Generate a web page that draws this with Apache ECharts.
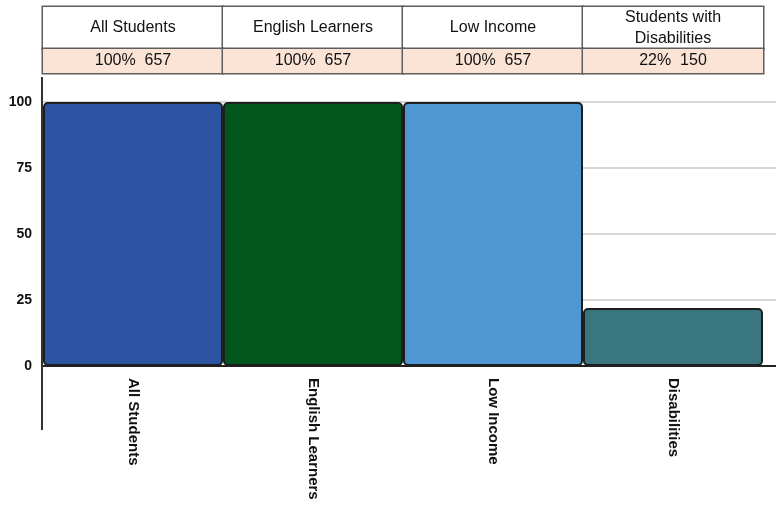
<!DOCTYPE html>
<html>
<head>
<meta charset="utf-8">
<script src="https://cdn.jsdelivr.net/npm/echarts@6/dist/echarts.min.js"></script>
<style>
  html, body { margin: 0; padding: 0; background: #fff; }
  #chart { width: 776px; height: 506px; }
</style>
</head>
<body>
<div id="chart"></div>
<script>
// chart data
const categories = ['All Students', 'English Learners', 'Low Income', 'Disabilities']
const headerLabels = ['All Students', 'English Learners', 'Low Income', 'Students with\nDisabilities']
const percents = [100, 100, 100, 22]
const counts = [657, 657, 657, 150]
const barColors = ['#2d53a3', '#00561b', '#4f97d2', '#3a767f']

const fontFamily = '"Liberation Sans", Arial, sans-serif'
const cellBorder = '#5e5e5e'

const chart = echarts.init(document.getElementById('chart'))

const option = {
  animation: false,
  textStyle: { fontFamily: fontFamily },
  grid: [
    // bars + header cells
    { left: 43, right: 13, top: 102, bottom: 140 },
    // split lines, y labels, baseline
    { left: 43, right: 0, top: 102, bottom: 140 },
    // value row cells
    { left: 43, right: 13, top: 102, bottom: 140 }
  ],
  xAxis: [
    {
      type: 'category',
      gridIndex: 0,
      position: 'bottom',
      data: categories,
      axisLine: { show: false },
      axisTick: { show: false },
      axisLabel: {
        interval: 0,
        rotate: -90,
        margin: 12,
        fontSize: 15,
        fontWeight: 'bold',
        color: '#111'
      }
    },
    {
      type: 'category',
      gridIndex: 0,
      position: 'top',
      data: headerLabels,
      axisLine: { show: false },
      axisTick: { show: false },
      axisLabel: {
        interval: 0,
        margin: 53,
        width: 180,
        align: 'center',
        verticalAlign: 'bottom',
        backgroundColor: '#fff',
        borderColor: cellBorder,
        borderWidth: 1.5,
        padding: 0,
        formatter: function(v) {
          if (v.indexOf('\n') >= 0) {
            return v.split('\n').map(s => '{two|' + s + '}').join('\n')
          }
          return '{one|' + v + '}'
        },
        rich: {
          one: { fontSize: 16, lineHeight: 42, color: '#111', fontFamily: fontFamily },
          two: { fontSize: 16, lineHeight: 21, color: '#111', fontFamily: fontFamily }
        }
      }
    },
    {
      type: 'value',
      gridIndex: 1,
      position: 'bottom',
      min: 0,
      max: 1,
      axisLine: { show: true, onZero: false, lineStyle: { color: '#222', width: 2 } },
      axisTick: { show: false },
      axisLabel: { show: false },
      splitLine: { show: false }
    },
    {
      type: 'category',
      gridIndex: 2,
      position: 'top',
      data: percents.map((p, i) => p + '%  ' + counts[i]),
      axisLine: { show: false },
      axisTick: { show: false },
      axisLabel: {
        interval: 0,
        margin: 29,
        width: 180,
        align: 'center',
        verticalAlign: 'bottom',
        backgroundColor: '#fbe4d5',
        borderColor: cellBorder,
        borderWidth: 1.5,
        padding: 0,
        lineHeight: 24,
        fontSize: 16,
        color: '#111'
      }
    }
  ],
  yAxis: [
    {
      type: 'value',
      gridIndex: 0,
      min: 0,
      max: 100,
      interval: 25,
      show: false
    },
    {
      type: 'value',
      gridIndex: 1,
      min: 0,
      max: 100,
      interval: 25,
      axisLine: { show: false },
      axisTick: { show: false },
      axisLabel: {
        margin: 11,
        fontSize: 14,
        fontWeight: 'bold',
        color: '#111'
      },
      splitLine: { show: true, lineStyle: { color: '#c8c8c8', width: 1.5 } }
    },
    {
      type: 'value',
      gridIndex: 2,
      min: 0,
      max: 100,
      show: false
    }
  ],
  graphic: [
    {
      // long left axis line
      type: 'line',
      shape: { x1: 42, y1: 77, x2: 42, y2: 430 },
      style: { stroke: '#333', lineWidth: 2 },
      z: 10
    }
  ],
  series: [
    {
      type: 'bar',
      xAxisIndex: 0,
      yAxisIndex: 0,
      barCategoryGap: 0,
      data: percents.map((p, i) => ({
        value: p,
        itemStyle: { color: barColors[i] }
      })),
      itemStyle: {
        borderColor: '#1e1e1e',
        borderWidth: 2,
        borderRadius: 4
      },
      z: 3
    }
  ]
}

chart.setOption(option)
</script>
</body>
</html>
